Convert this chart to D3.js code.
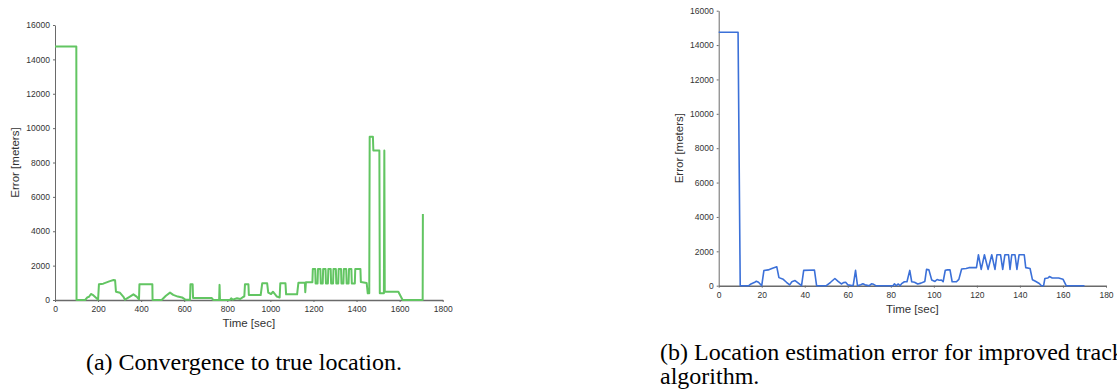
<!DOCTYPE html>
<html>
<head>
<meta charset="utf-8">
<script src="https://cdn.jsdelivr.net/npm/d3@7"></script>
<style>
  html, body { margin: 0; padding: 0; background: #fff; }
  svg { display: block; }
</style>
</head>
<body>
<svg id="chart" width="1117" height="391"></svg>
<script>
// ---- Data ----
const yTicks = [0, 2000, 4000, 6000, 8000, 10000, 12000, 14000, 16000];
const xTicksLeft = [0, 200, 400, 600, 800, 1000, 1200, 1400, 1600, 1800];
const xTicksRight = [0, 20, 40, 60, 80, 100, 120, 140, 160, 180];

// (a) Convergence to true location
const leftTime = [
  0, 99, 100, 140, 150, 158, 167, 175, 193, 200,
  204, 224, 255, 272, 279, 283, 302, 317, 325, 348,
  364, 379, 390, 392, 452, 453, 495, 515, 534, 549,
  570, 590, 605, 627, 629, 639, 641, 727, 735, 762,
  764, 766, 812, 818, 825, 845, 860, 876, 879, 882,
  898, 900, 955, 962, 985, 990, 1003, 1012, 1022, 1030,
  1043, 1046, 1070, 1073, 1124, 1130, 1160, 1162, 1165, 1195,
  1197, 1208, 1210, 1219, 1221, 1232, 1234, 1243, 1245, 1256,
  1258, 1267, 1269, 1280, 1282, 1291, 1293, 1304, 1306, 1315,
  1317, 1328, 1330, 1339, 1341, 1352, 1354, 1363, 1365, 1376,
  1378, 1392, 1394, 1418, 1420, 1447, 1452, 1459, 1461, 1476,
  1478, 1506, 1508, 1527, 1529, 1531, 1594, 1614, 1707, 1708
];
const leftError = [
  14750, 14750, 0, 0, 150, 190, 350, 300, 100, 20,
  910, 950, 1100, 1160, 1150, 480, 420, 200, 20, 200,
  330, 200, 40, 910, 910, 0, 0, 250, 430, 300,
  200, 150, 20, 20, 910, 910, 120, 120, 0, 0,
  880, 0, 0, 100, 20, 100, 60, 200, 200, 910,
  910, 290, 290, 970, 970, 430, 350, 480, 330, 200,
  150, 970, 970, 330, 330, 1000, 1000, 450, 1030, 1030,
  1800, 1800, 960, 960, 1800, 1800, 960, 960, 1800, 1800,
  960, 960, 1800, 1800, 960, 960, 1800, 1800, 960, 960,
  1800, 1800, 960, 960, 1800, 1800, 960, 960, 1800, 1800,
  960, 960, 1800, 1800, 1050, 990, 390, 390, 9500, 9500,
  8700, 8700, 400, 400, 8700, 480, 480, 0, 0, 5000
];

// (b) Location estimation error for improved tracking algorithm
const rightTime = [
  0, 9, 10, 14, 15, 16.5, 17.5, 18.5, 20, 21,
  23, 25, 27, 28, 30, 31.5, 33, 34, 35.5, 37,
  38.5, 39.5, 44.5, 45.5, 50, 52, 54, 55.5, 57, 58,
  59, 60, 62.5, 63.6, 64.5, 66, 67, 68, 70, 71,
  72, 73, 81, 81.7, 82.5, 83.5, 84.3, 85, 86.3, 87.5,
  88.8, 89.7, 91, 92.5, 94, 95.8, 96.6, 97.7, 99, 100.5,
  101.5, 102.5, 103.5, 104.3, 105.3, 106.3, 107.5, 108.5, 110.5, 111.6,
  112.9, 115, 116.3, 119.8, 120.7, 122, 123.5, 125.2, 126.9, 128.4,
  129.3, 131, 132, 133, 134.7, 135.4, 136.2, 137.7, 138.6, 139.6,
  142, 142.7, 144.7, 145.8, 147, 149, 150, 151, 151.6, 153,
  153.7, 155, 158, 160, 161.5, 170
];
const rightError = [
  14750, 14750, 0, 0, 100, 180, 260, 200, 0, 880,
  920, 1020, 1100, 470, 370, 200, 50, 230, 300, 150,
  0, 890, 910, 0, 0, 200, 420, 250, 100, 180,
  200, 50, 0, 890, 0, 60, 110, 50, 0, 110,
  80, 0, 0, 110, 0, 100, 0, 120, 230, 230,
  890, 230, 200, 100, 150, 250, 950, 920, 330, 250,
  360, 320, 330, 230, 900, 920, 920, 230, 230, 370,
  970, 1000, 1050, 1050, 1800, 950, 1800, 950, 1800, 950,
  1800, 1800, 950, 1800, 1800, 950, 1800, 1800, 950, 1800,
  1800, 1050, 1000, 350, 270, 130, 0, 0, 420, 450,
  530, 450, 450, 380, 0, 0
];

const captionA = "(a) Convergence to true location.";
const captionB1 = "(b) Location estimation error for improved tracking";
const captionB2 = "algorithm.";

// ---- Drawing ----
const svg = d3.select("#chart");
svg.append("rect").attr("width", 1117).attr("height", 391).attr("fill", "#fff");

function panel(cfg) {
  const x = d3.scaleLinear().domain([0, cfg.xMax]).range([cfg.left, cfg.right]);
  const y = d3.scaleLinear().domain([0, 16000]).range([cfg.bottom, cfg.top]);
  const g = svg.append("g");

  const yAxis = g.append("g")
    .attr("transform", `translate(${cfg.left},0)`)
    .call(d3.axisLeft(y).tickValues(yTicks).tickSize(2).tickSizeOuter(0).tickPadding(3).tickFormat(d3.format("d")));
  yAxis.select(".domain").attr("stroke", "#6a6a6a").attr("stroke-width", 1);
  yAxis.selectAll(".tick line").attr("stroke", "#6a6a6a");
  yAxis.selectAll("text").attr("fill", "#333").style("font-family", "'Liberation Sans', Arial, sans-serif").style("font-size", "8.5px");

  const xAxis = g.append("g")
    .attr("transform", `translate(0,${cfg.bottom})`)
    .call(d3.axisBottom(x).tickValues(cfg.xTicks).tickSize(2).tickSizeOuter(0).tickPadding(4).tickFormat(d3.format("d")));
  xAxis.select(".domain").attr("stroke", "#6a6a6a").attr("stroke-width", 1.6);
  xAxis.selectAll(".tick line").attr("stroke", "#6a6a6a");
  xAxis.selectAll("text").attr("fill", "#333").style("font-family", "'Liberation Sans', Arial, sans-serif").style("font-size", "8.5px");

  const line = d3.line().x(d => x(d[0])).y(d => y(d[1]));
  const pts = cfg.t.map((t, i) => [t, cfg.v[i]]);
  g.append("path").datum(pts)
    .attr("d", line)
    .attr("fill", "none")
    .attr("stroke", cfg.color)
    .attr("stroke-width", cfg.width)
    .attr("stroke-linejoin", "round");

  g.append("text")
    .attr("x", (cfg.left + cfg.right) / 2)
    .attr("y", cfg.bottom + 27)
    .attr("text-anchor", "middle")
    .attr("fill", "#333")
    .style("font-family", "'Liberation Sans', Arial, sans-serif")
    .style("font-size", "11.5px")
    .text("Time [sec]");

  g.append("text")
    .attr("transform", `translate(${cfg.left - 36},${(cfg.top + cfg.bottom) / 2}) rotate(-90)`)
    .attr("text-anchor", "middle")
    .attr("fill", "#333")
    .style("font-family", "'Liberation Sans', Arial, sans-serif")
    .style("font-size", "11.5px")
    .text("Error [meters]");
}

panel({ xMax: 1800, xTicks: xTicksLeft, left: 55, right: 442.7, top: 25, bottom: 300,
        t: leftTime, v: leftError, color: "#62c562", width: 2 });
panel({ xMax: 180, xTicks: xTicksRight, left: 718.7, right: 1106, top: 10.7, bottom: 285.7,
        t: rightTime, v: rightError, color: "#3b70d8", width: 1.6 });

const capFont = "'Liberation Serif', 'Times New Roman', serif";
svg.append("text").attr("x", 244).attr("y", 370).attr("text-anchor", "middle")
  .style("font-family", capFont).style("font-size", "24px").attr("fill", "#000").text(captionA);
svg.append("text").attr("x", 660).attr("y", 360)
  .style("font-family", capFont).style("font-size", "24px").attr("fill", "#000").text(captionB1);
svg.append("text").attr("x", 660).attr("y", 384)
  .style("font-family", capFont).style("font-size", "24px").attr("fill", "#000").text(captionB2);
</script>
</body>
</html>
